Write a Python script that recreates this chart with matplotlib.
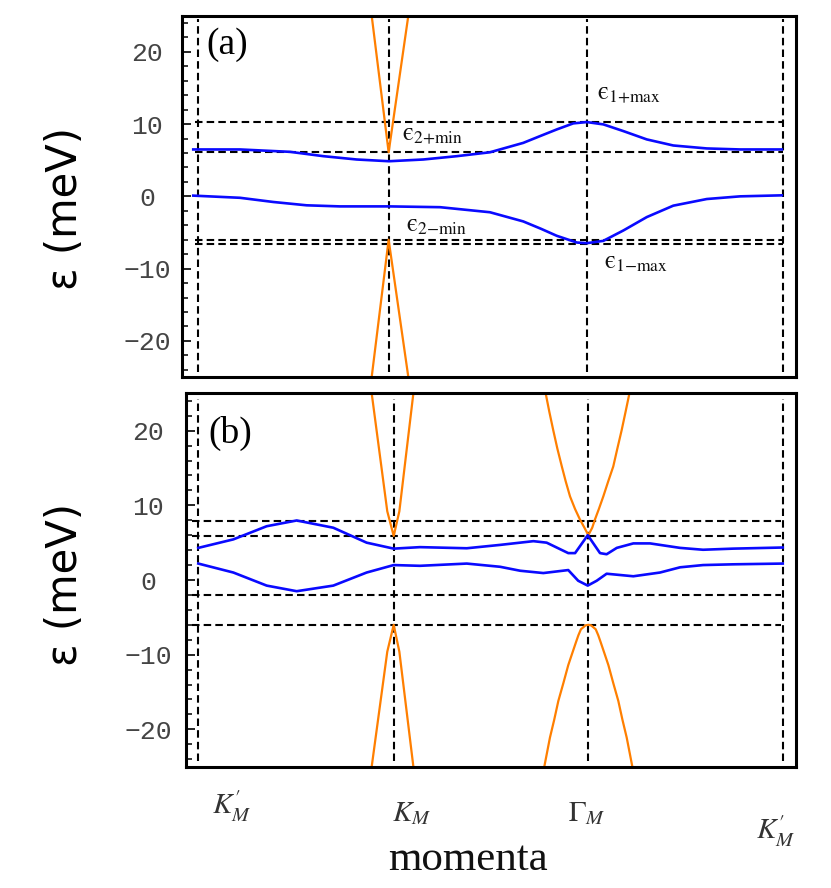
import matplotlib
matplotlib.use("Agg")
import matplotlib.pyplot as plt
import matplotlib.transforms as mtransforms
from matplotlib.ticker import MultipleLocator

plt.rcParams['mathtext.fontset'] = 'stix'

# ---------------- data (momentum along K'_M -> K_M -> Gamma_M -> K'_M) ----------------
# panel (a): high-symmetry positions
hs_a = [0.0, 0.977, 1.995, 3.0]
# blue bands (a)
ka_up = [-0.026, 0.214, 0.471, 0.642, 0.813, 0.979, 1.155, 1.327, 1.497, 1.668, 1.760,
         1.840, 1.925, 1.994, 2.079, 2.182, 2.302, 2.438, 2.610, 2.781, 2.995]
Ea_up = [6.49, 6.49, 6.16, 5.56, 5.10, 4.86, 5.10, 5.56, 6.10, 7.40, 8.40,
         9.26, 10.10, 10.28, 9.96, 9.03, 7.88, 7.04, 6.63, 6.49, 6.49]
ka_lo = [-0.026, 0.214, 0.385, 0.556, 0.727, 0.979, 1.241, 1.497, 1.668, 1.760, 1.840,
         1.943, 1.994, 2.079, 2.182, 2.302, 2.438, 2.610, 2.781, 2.995]
Ea_lo = [0.10, -0.20, -0.78, -1.24, -1.39, -1.39, -1.50, -2.20, -3.47, -4.50, -5.46,
         -6.39, -6.48, -6.16, -4.72, -2.87, -1.29, -0.37, 0.00, 0.14]
# orange cones at K_M (a)
ka_or_up = [0.890, 0.977, 1.078]
Ea_or_up = [25.0, 6.1, 25.0]
ka_or_lo = [0.890, 0.977, 1.078]
Ea_or_lo = [-25.0, -6.0, -25.0]
# reference energies (a)
hlines_a = [10.28, 6.1, -6.0, -6.55]

# panel (b)
hs_b = [0.0, 1.003, 2.002, 3.0]
kb_up = [0.0, 0.180, 0.351, 0.505, 0.693, 0.864, 1.003, 1.138, 1.378, 1.549, 1.720,
         1.788, 1.899, 1.934, 1.999, 2.062, 2.096, 2.148, 2.233, 2.319, 2.473, 2.591,
         2.745, 3.0]
Eb_up = [4.30, 5.44, 7.20, 7.97, 7.00, 5.00, 4.20, 4.40, 4.25, 4.70, 5.20,
         5.00, 3.60, 3.60, 6.00, 3.60, 3.45, 4.30, 4.90, 4.90, 4.30, 4.05,
         4.20, 4.35]
kb_lo = [0.0, 0.180, 0.351, 0.505, 0.693, 0.864, 1.003, 1.138, 1.378, 1.549, 1.652,
         1.771, 1.899, 1.950, 1.999, 2.045, 2.096, 2.233, 2.370, 2.473, 2.591, 2.745, 3.0]
Eb_lo = [2.20, 1.00, -0.75, -1.50, -0.75, 1.00, 2.00, 1.90, 2.20, 1.77, 1.24,
         0.93, 1.33, -0.10, -0.75, -0.10, 0.84, 0.50, 1.00, 1.70, 2.00, 2.10, 2.20]
# orange bands (b) at K_M
kb_orK_up = [0.890, 0.970, 1.003, 1.032, 1.104]
Eb_orK_up = [25.0, 9.2, 5.9, 9.2, 25.0]
kb_orK_lo = [0.890, 0.970, 1.003, 1.032, 1.104]
Eb_orK_lo = [-25.0, -9.6, -6.0, -9.6, -25.0]
# orange bands (b) at Gamma_M
kb_orG_up = [1.783, 1.802, 1.822, 1.843, 1.866, 1.886, 1.908, 1.934, 1.959, 1.982, 2.002,
             2.022, 2.036, 2.056, 2.079, 2.104, 2.130, 2.151, 2.173, 2.193, 2.213]
Eb_orG_up = [25.0, 22.5, 20.05, 17.6, 15.2, 13.2, 11.2, 9.5, 8.1, 7.0, 6.0,
             7.0, 8.1, 9.5, 11.2, 13.2, 15.2, 17.6, 20.05, 22.5, 25.0]
kb_orG_lo = [1.776, 1.805, 1.827, 1.848, 1.874, 1.899, 1.917, 1.939, 1.951, 1.964, 1.988,
             2.002, 2.016, 2.040, 2.053, 2.065, 2.087, 2.105, 2.130, 2.156, 2.177, 2.199,
             2.228]
Eb_orG_lo = [-25.0, -21.1, -18.7, -16.2, -13.8, -11.4, -10.0, -8.3, -7.4, -6.6, -6.07,
             -6.0, -6.07, -6.6, -7.4, -8.3, -10.0, -11.4, -13.8, -16.2, -18.7, -21.1,
             -25.0]
hlines_b = [7.85, 5.84, -1.99, -5.98]

xtick_labels = [r"$K_M^{\prime}$", r"$K_M$", r"$\Gamma_M$", r"$K_M^{\prime}$"]
annot_labels = ["$\\mathrm{\u03f5}_{\\mathrm{2{+}min}}$", "$\\mathrm{\u03f5}_{\\mathrm{2{-}min}}$",
                "$\\mathrm{\u03f5}_{\\mathrm{1{+}max}}$", "$\\mathrm{\u03f5}_{\\mathrm{1{-}max}}$"]

# ---------------- figure ----------------
W, H = 831, 888
fig = plt.figure(figsize=(W / 100, H / 100), dpi=100)


def px_axes(l, t, r, b):
    return fig.add_axes([l / W, 1 - b / H, (r - l) / W, (b - t) / H])


ax_a = px_axes(182, 15.7, 796, 377)
ax_b = px_axes(185.5, 393.3, 796, 766.7)

BLUE = "#0a0aff"
ORANGE = "#ff7f00"
dash = (0, (3.6, 2.0))
DLW = 1.5


def style(ax, xlim, label_pad):
    ax.set_xlim(*xlim)
    ax.set_ylim(-25, 25)
    ax.yaxis.set_major_locator(MultipleLocator(10))
    ax.yaxis.set_minor_locator(MultipleLocator(2))
    ax.tick_params(axis='y', which='major', direction='in', length=6.5, width=1.2,
                   labelsize=19, labelcolor='#444444', pad=label_pad)
    ax.tick_params(axis='y', which='minor', direction='in', length=4, width=1.1)
    ax.tick_params(axis='x', which='both', length=0)
    for lab in ax.get_yticklabels():
        lab.set_fontfamily('Liberation Mono')
        lab.set_horizontalalignment('center')
    for s in ax.spines.values():
        s.set_linewidth(2.2)


# ----- panel (a) -----
style(ax_a, (-0.0837, 3.068), 25)
ax_a.set_xticks(hs_a)
ax_a.set_xticklabels([])
ax_a.vlines(hs_a, -24.3, 24.5, colors='k', linestyles=dash, lw=DLW, zorder=1)
ax_a.hlines(hlines_a, -0.017, 3.0, colors='k', linestyles=dash, lw=DLW, zorder=1)
ax_a.plot(ka_or_up, Ea_or_up, color=ORANGE, lw=1.6, zorder=2)
ax_a.plot(ka_or_lo, Ea_or_lo, color=ORANGE, lw=1.6, zorder=2)
ax_a.plot(ka_up, Ea_up, color=BLUE, lw=1.9, zorder=3)
ax_a.plot(ka_lo, Ea_lo, color=BLUE, lw=1.9, zorder=3)
ax_a.text(0.04, 0.92, "(a)", transform=ax_a.transAxes, fontsize=27,
          family='Liberation Serif', va='center', ha='left')
ann = dict(fontsize=18, va='center', ha='left', color='#111111')
ax_a.text(1.044, 8.6, annot_labels[0], **ann)
ax_a.text(1.064, -4.0, annot_labels[1], **ann)
ax_a.text(2.048, 14.3, annot_labels[2], **ann)
ax_a.text(2.083, -9.1, annot_labels[3], **ann)

# ----- panel (b) -----
style(ax_b, (-0.0657, 3.068), 27)
ax_b.vlines(hs_b, -24.2, 24.2, colors='k', linestyles=dash, lw=DLW, zorder=1)
ax_b.hlines(hlines_b, -0.034, 2.99, colors='k', linestyles=dash, lw=DLW, zorder=1)
for kk, ee in [(kb_orK_up, Eb_orK_up), (kb_orK_lo, Eb_orK_lo),
               (kb_orG_up, Eb_orG_up), (kb_orG_lo, Eb_orG_lo)]:
    ax_b.plot(kk, ee, color=ORANGE, lw=1.6, zorder=2)
ax_b.plot(kb_up, Eb_up, color=BLUE, lw=1.9, zorder=3)
ax_b.plot(kb_lo, Eb_lo, color=BLUE, lw=1.9, zorder=3)
ax_b.text(0.037, 0.893, "(b)", transform=ax_b.transAxes, fontsize=27,
          family='Liberation Serif', va='center', ha='left')

ax_b.set_xticks(hs_b)
ax_b.set_xticklabels(xtick_labels, fontsize=21, color='#333333')
ax_b.tick_params(axis='x', pad=23)
offsets = [(24, 7), (13, 0), (-1, 0), (-5.5, -11)]
for lab, (dx, dy) in zip(ax_b.get_xticklabels(), offsets):
    lab.set_transform(lab.get_transform() +
                      mtransforms.ScaledTranslation(dx / 72, dy / 72, fig.dpi_scale_trans))

# axis labels
fig.text(65 / W, 1 - 209 / H, "ε (meV)", rotation=90, fontsize=30,
         family='DejaVu Sans', ha='center', va='center')
fig.text(65 / W, 1 - 584 / H, "ε (meV)", rotation=90, fontsize=30,
         family='DejaVu Sans', ha='center', va='center')
fig.text(468 / W, 1 - 860 / H, "momenta", fontsize=31, family='Liberation Serif',
         ha='center', va='center', color='#111111')

fig.savefig("out.png", dpi=100)
